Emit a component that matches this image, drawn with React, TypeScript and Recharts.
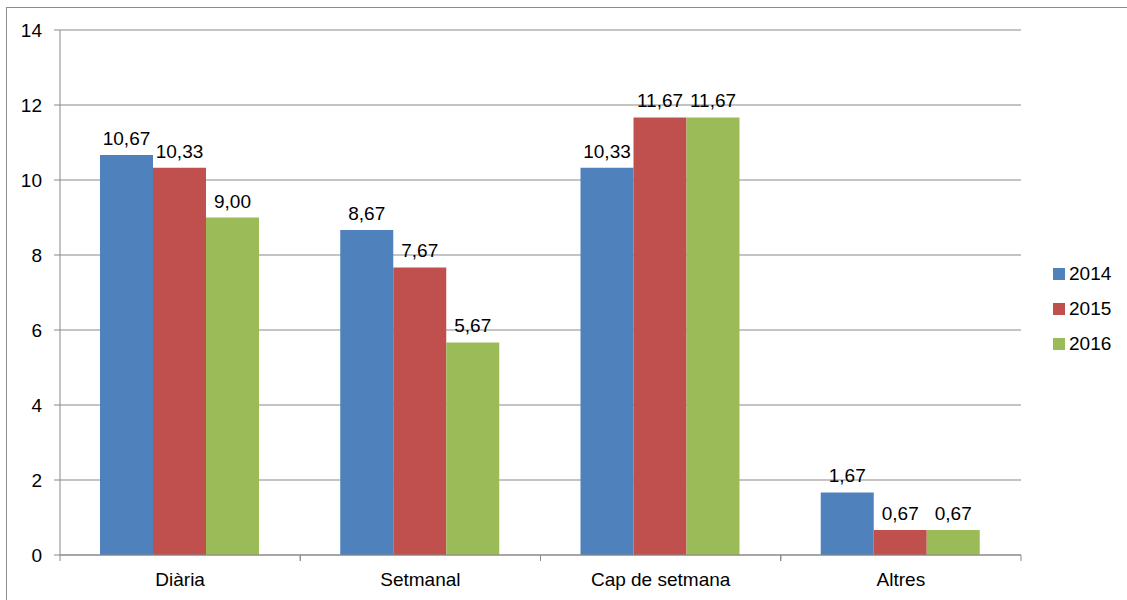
import React from 'react'
import { Bar, BarChart, CartesianGrid, LabelList, XAxis, YAxis } from 'recharts'

const categories = ['Diària', 'Setmanal', 'Cap de setmana', 'Altres']
const values2014 = [10.67, 8.67, 10.33, 1.67]
const values2015 = [10.33, 7.67, 11.67, 0.67]
const values2016 = [9.0, 5.67, 11.67, 0.67]
const yTicks = [0, 2, 4, 6, 8, 10, 12, 14]

const series = [
  { key: 'y2014', name: '2014', color: '#4F81BD' },
  { key: 'y2015', name: '2015', color: '#C0504D' },
  { key: 'y2016', name: '2016', color: '#9BBB59' },
]

const data = categories.map((name, i) => ({
  name,
  y2014: values2014[i],
  y2015: values2015[i],
  y2016: values2016[i],
}))

const FONT = '"Liberation Sans", Arial, sans-serif'
const GRID = '#898989'

const fmt = (v: unknown) => Number(v).toFixed(2).replace('.', ',')

// category label plus the small tick marks on the band edges (Excel style)
function CategoryTick(props: any) {
  const { x, y, payload } = props
  const half = payload?.offset || 120
  return (
    <g>
      <line x1={x - half} x2={x - half} y1={y} y2={y + 6} stroke={GRID} />
      <line x1={x + half} x2={x + half} y1={y} y2={y + 6} stroke={GRID} />
      <text x={x} y={y + 18} dy="0.71em" textAnchor="middle" fill="#000" fontSize={19} fontFamily={FONT}>
        {payload.value}
      </text>
    </g>
  )
}

export default function App() {
  return (
    <div
      style={{
        position: 'absolute',
        left: 0,
        top: 0,
        width: 1127,
        height: 600,
        overflow: 'hidden',
        background: '#fff',
        fontFamily: FONT,
      }}
    >
      <div
        style={{
          position: 'absolute',
          left: 6,
          top: 7,
          width: 1300,
          height: 800,
          border: '1px solid #8c8c8c',
        }}
      />
      <div style={{ position: 'absolute', left: 0, top: 0 }}>
        <BarChart
          width={1127}
          height={600}
          data={data}
          margin={{ top: 30, right: 106, bottom: 0, left: 0 }}
          barCategoryGap={40}
          barGap={0}
        >
          <CartesianGrid vertical={false} stroke={GRID} strokeWidth={1} />
          <XAxis
            dataKey="name"
            height={45}
            axisLine={{ stroke: GRID }}
            tickLine={false}
            tickSize={0}
            tickMargin={0}
            tick={<CategoryTick />}
            interval={0}
          />
          <YAxis
            width={60}
            domain={[0, 14]}
            ticks={yTicks}
            interval={0}
            axisLine={{ stroke: GRID }}
            tickLine={{ stroke: GRID }}
            tickSize={6}
            tickMargin={12}
            tick={{ fill: '#000', fontSize: 19, fontFamily: FONT }}
          />
          {series.map((s) => (
            <Bar key={s.key} dataKey={s.key} name={s.name} fill={s.color} isAnimationActive={false}>
              <LabelList
                dataKey={s.key}
                position="top"
                offset={10}
                formatter={fmt}
                fill="#000"
                fontSize={19}
                fontFamily={FONT}
              />
            </Bar>
          ))}
        </BarChart>
      </div>
      <div style={{ position: 'absolute', left: 1053, top: 256, fontSize: 19, color: '#000' }}>
        {series.map((s) => (
          <div key={s.key} style={{ display: 'flex', alignItems: 'center', height: 35 }}>
            <span style={{ width: 12, height: 12, background: s.color, marginRight: 4, display: 'inline-block' }} />
            <span>{s.name}</span>
          </div>
        ))}
      </div>
    </div>
  )
}
